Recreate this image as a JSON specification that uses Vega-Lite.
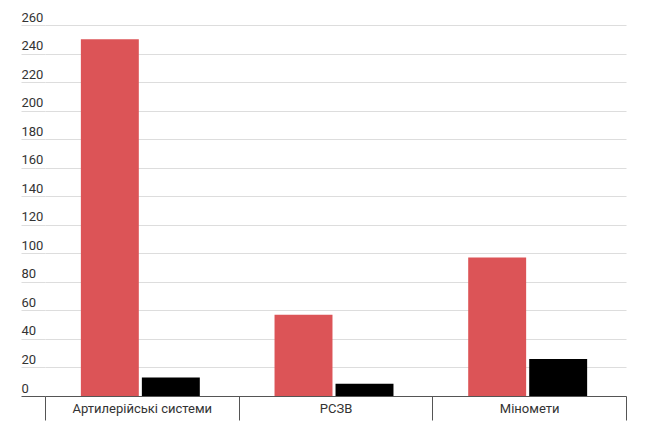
{
  "$schema": "https://vega.github.io/schema/vega-lite/v6.json",
  "width": 581,
  "height": 371,
  "autosize": "none",
  "padding": {"left": 45, "top": 25, "right": 44, "bottom": 38},
  "background": "#ffffff",
  "config": {"view": {"stroke": null}, "font": "Roboto"},
  "data": {
    "values": [
      {"category": "Артилерійські системи", "series": "A", "value": 250},
      {"category": "Артилерійські системи", "series": "B", "value": 13},
      {"category": "РСЗВ", "series": "A", "value": 57},
      {"category": "РСЗВ", "series": "B", "value": 8.5},
      {"category": "Міномети", "series": "A", "value": 97},
      {"category": "Міномети", "series": "B", "value": 26}
    ]
  },
  "mark": {"type": "bar"},
  "encoding": {
    "x": {
      "field": "category",
      "type": "nominal",
      "sort": null,
      "title": null,
      "scale": {"paddingInner": 0, "paddingOuter": 0},
      "axis": {
        "tickBand": "extent",
        "labelAngle": 0,
        "domainColor": "#555555",
        "tickColor": "#555555",
        "tickSize": 24,
        "labelPadding": -18,
        "labelFontSize": 13,
        "labelColor": "#333333",
        "labelFont": "Roboto",
        "grid": false
      }
    },
    "xOffset": {
      "field": "series",
      "type": "nominal",
      "sort": null,
      "scale": {"paddingInner": 0.05, "paddingOuter": 0.6125, "align": 0.48}
    },
    "y": {
      "field": "value",
      "type": "quantitative",
      "title": null,
      "scale": {"domain": [0, 260]},
      "axis": {
        "values": [0, 20, 40, 60, 80, 100, 120, 140, 160, 180, 200, 220, 240, 260],
        "tickSize": 24,
        "tickColor": {"condition": {"test": "datum.value === 0", "value": "#555555"}, "value": "#dddddd"},
        "domain": false,
        "labelAlign": "left",
        "labelPadding": 0,
        "labelBaseline": "alphabetic",
        "labelOffset": -4,
        "labelFlush": false,
        "gridColor": "#dddddd",
        "labelFontSize": 13,
        "labelColor": "#333333",
        "labelFont": "Roboto"
      }
    },
    "color": {
      "field": "series",
      "type": "nominal",
      "scale": {"range": ["#dc5457", "#000000"]},
      "legend": null
    }
  }
}
